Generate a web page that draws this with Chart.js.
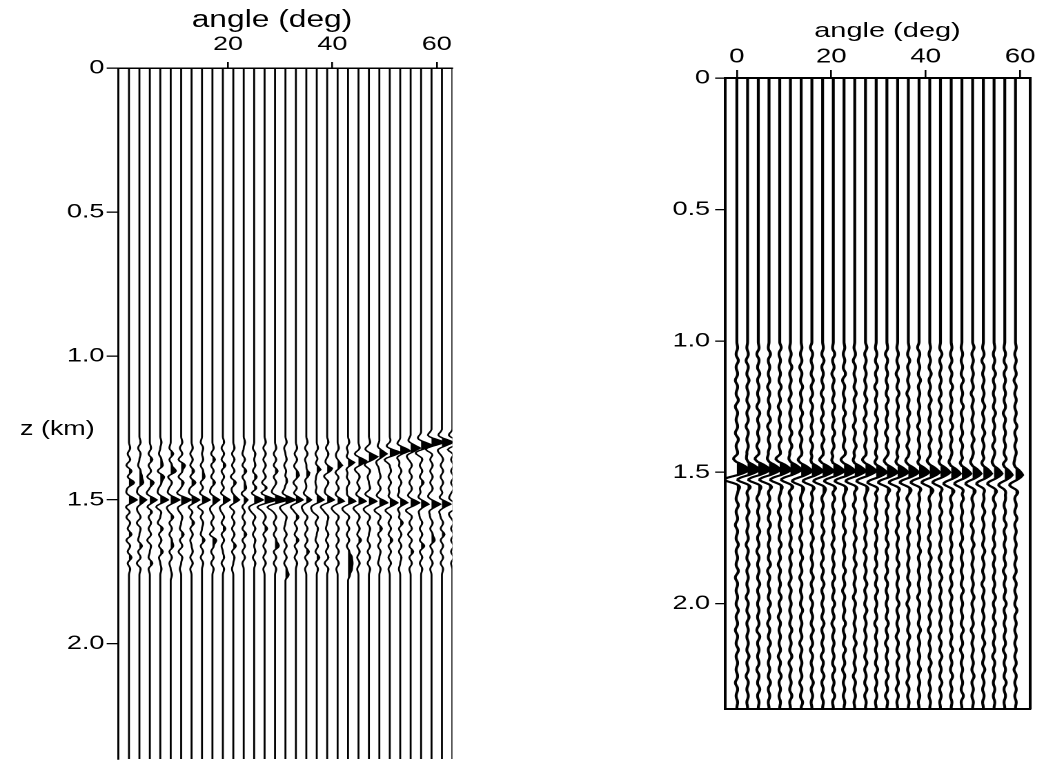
<!DOCTYPE html>
<html><head><meta charset="utf-8">
<script src="https://cdn.jsdelivr.net/npm/chart.js@4.4.1/dist/chart.umd.min.js"></script>
<style>
html,body{margin:0;padding:0;background:#fff;overflow:hidden;width:1038px;height:762px}
#stage{position:absolute;left:0;top:0;width:752.2px;height:762px;transform:scaleX(1.38);transform-origin:0 0}
#cl{position:absolute;left:0;top:0}
#cr{position:absolute;left:435px;top:0}
.txt{position:absolute;font-family:"Liberation Sans",Arial,Helvetica,sans-serif;color:#000;white-space:nowrap}
#tl{left:197.1px;top:8px;font-size:23px;line-height:23px;transform:translateX(-50%)}
#tr{left:643.1px;top:19px;font-size:21px;line-height:21px;transform:translateX(-50%)}
#zl{left:14.5px;top:418.4px;font-size:19.5px;line-height:20px}
</style></head><body>
<div id="stage">
<canvas id="cl" width="341" height="762"></canvas>
<canvas id="cr" width="317" height="762"></canvas>
<div class="txt" id="tl">angle (deg)</div>
<div class="txt" id="tr">angle (deg)</div>
<div class="txt" id="zl">z (km)</div>
</div>
<script>
// ---------------- data ----------------
const zTicks = [0, 0.5, 1.0, 1.5, 2.0];
const zTickLabels = ['0', '0.5', '1.0', '1.5', '2.0'];
const angleTicksL = [20, 40, 60];
const angleTicksR = [0, 20, 40, 60];

// left panel: trace angles (deg)
const anglesL = [1,3,5,7,9,11,13,15,17,19,21,23,25,27,29,31,33,35,37,39,41,43,45,47,49,51,53,55,57,59,61,63];
// main reflection depth (km) and amplitude per trace
const mainDepthL = [1.5,1.5,1.5,1.5,1.5,1.5,1.5,1.5,1.5,1.5,1.5,1.5,1.5,1.5,1.5,1.5,1.5,1.5,
                    1.5,1.5,1.505,1.505,1.505,1.505,1.51,1.51,1.51,1.51,1.515,1.515,1.515,1.52];
const mainAmpL = [8,7,7,8,9,10,8,8,7,7,6,4,9,12,13,10,7,5,7,7,7,8,8,8,9,8,8,9,9,9,10,10];
// dipping (residual-moveout) event
const dipDepthL = [0,0,0,0,0,0,0,0,0,0,0,0,0,0,0,1.425,1.415,1.405,1.395,1.39,1.38,1.37,1.365,1.35,1.34,1.335,1.33,1.32,1.31,1.30,1.30,1.30];
const dipAmpL   = [0,0,0,0,0,0,0,0,0,0,0,0,0,0,0,2,3,4,5,5,6,7,8,8,9,10,10,11,11,12,12,12];
// small wiggles, one value every 0.02 km from 1.30 km
const noiseZ0L = 1.30, noiseDzL = 0.02;
const noiseL = [
[0,1,-1,1,-2,2,-1,4,-1,0,0,0,1,-2,1,-1,2,-2,1,-1,2,-1,1,0],
[1,-1,1,0,-1,1,2,3,-1,0,0,1,-1,1,-2,1,0,-1,2,-1,1,-2,1,0],
[0,1,-1,2,-1,1,-2,3,0,-1,0,0,2,-1,1,-1,1,-2,1,0,-1,2,-1,0],
[1,0,-1,1,2,-2,3,1,-1,0,0,-1,1,0,-2,2,-1,1,-1,2,-1,0,1,0],
[0,-1,2,-1,1,4,-2,1,-1,0,0,0,-1,2,-1,1,-1,1,2,-1,1,-1,0,1],
[1,-1,1,-2,3,1,-2,2,0,-1,0,1,-1,1,0,-1,2,-1,1,-2,1,0,-1,0],
[0,1,-1,1,-1,2,-1,3,-1,0,0,0,1,-1,2,-1,1,-1,0,1,-1,1,-1,0],
[-1,1,0,1,-1,1,2,-1,1,0,0,-1,1,-1,1,0,-1,2,-1,1,-1,1,0,0],
[0,1,-1,2,-1,1,-1,2,-1,0,0,1,-1,1,-1,1,-2,3,1,-1,1,-1,1,0],
[1,-1,1,-1,2,-1,1,-1,1,0,0,0,-1,1,-1,2,-1,1,-1,0,1,-1,1,0],
[0,1,-1,1,-1,1,-2,2,-1,1,0,-1,1,-1,1,-1,1,-1,2,-1,1,0,-1,0],
[1,0,-1,1,-1,2,-1,1,2,-1,0,0,1,-1,1,-1,2,-1,1,-1,1,-1,0,0],
[0,-1,1,0,1,-1,2,-1,2,0,0,-1,-2,1,-1,1,-1,1,0,1,-1,1,0,0],
[1,-1,1,-1,1,-1,1,-2,2,0,0,-2,-1,1,-1,2,-1,1,-1,1,-1,1,-1,0],
[0,1,-1,1,-1,2,-1,1,-1,1,0,-2,-1,1,-1,1,-1,1,3,-1,1,-1,1,0],
[1,-1,0,1,-1,1,-1,1,0,0,0,-1,-2,1,0,-1,1,-1,1,-1,1,-1,1,2.5],
[0,1,-1,1,-1,1,0,-1,1,0,0,-2,-1,2,-1,1,-1,2,-1,1,-1,1,0,0],
[1,-1,1,-1,1,-1,1,0,0,-1,0,-2,-2,1,-1,1,-1,1,-1,2,-1,1,-1,0],
[0,1,-1,1,0,-1,1,-1,0,1,0,-2,-3,1,-1,1,0,-1,1,-1,2,-1,1,0],
[1,-1,1,0,-1,1,-1,1,-1,0,0,-3,-2,1,0,-1,1,-1,1,-1,1,-2,1,0],
[0,1,-1,1,-1,0,1,-1,1,0,0,-3,-2,1,-1,1,-1,1,-1,1,-1,1,-1,0],
[1,-1,1,-1,0,1,-1,1,-1,1,0,-2,-2,1,-1,1,-1,1,-1,1,3,3.5,3,1.5],
[0,1,-1,0,1,-1,1,-1,1,0,0,-2,-1,1,-1,1,-1,2,-1,1,-1,1,-1,0],
[1,-1,0,1,-1,1,-1,0,1,-1,0,-1,-2,1,-1,1,0,-1,1,-1,1,-1,1,0],
[0,1,-1,1,-1,0,1,-1,1,0,0,-1,-1,1,-1,2,-1,1,-1,1,0,-1,1,0],
[1,-1,1,-1,0,1,-1,1,-1,1,0,0,-1,1,-1,1,-1,2,-1,1,-1,1,-1,0],
[0,1,-1,1,-1,1,-1,1,-1,0,0,-1,1,-1,2,-1,1,-1,1,-1,1,0,-1,0],
[1,-1,1,-1,1,-1,1,-1,1,0,0,0,-1,1,-1,1,-2,1,-1,2,-1,1,-1,0],
[0,1,-1,1,-1,1,-1,2,-1,0,0,-1,1,-1,1,-1,1,-1,2.5,-1,1,-1,1,0],
[1,-1,1,-1,1,-1,1,-1,1,-1,0,0,1,-1,1,-1,1,2.5,-1,1,-1,1,-1,0],
[0,1,-1,1,-1,1,-1,1,-1,1,0,-1,1,-1,1,-1,2,-1,1,-1,1,-1,1,0],
[0,0,1,-1,1,-1,1,-1,1,-1,0,-1,1,-1,1,-1,1,-1,1,-1,1,-1,0,0]
];

// right panel
const anglesR = [0,2.27,4.54,6.81,9.08,11.35,13.62,15.89,18.16,20.43,22.7,24.97,27.24,29.51,31.78,34.05,36.32,38.59,40.86,43.13,45.4,47.67,49.94,52.21,54.48,56.75,59.02];
const mainDepthR = [1.49,1.49,1.49,1.49,1.49,1.49,1.495,1.495,1.495,1.495,1.495,1.495,1.495,1.5,1.5,1.5,1.5,1.5,1.5,1.5,1.505,1.505,1.505,1.505,1.505,1.51,1.51];
const mainAmpR = [12.5,12.2,12,11.6,11.4,11.2,11,10.9,11,11,11.2,11,10.8,10.5,10.5,10.5,10.3,10,9.8,9.5,9.2,9,8.5,8.3,8,7.5,7.2];
// wiggles, one value every 0.025 km from 1.025 km
const noiseZ0R = 1.025, noiseDzR = 0.025;
const noiseR = [
[1,-1,2,-1,1,-2,1,-1,2,-2,1,-1,1,-2,2,-1,1,-1,0,0,-3,0,1,-1,2,-1,1,-2,1,-1,2,-1,1,-1,2,-2,1,-1,1,-1,2,-1,1,-2,1,-1,2,-1,1,-1,1,-2,1,-1,1],
[-1,1,-2,1,-1,2,-1,1,-1,2,-1,1,-2,1,-1,1,-1,2,0,0,0,0,-1,1,-1,2,-1,1,-1,1,-2,1,-1,2,-1,1,-1,1,-2,1,-1,2,-1,1,-1,1,-1,2,-1,1,-2,1,-1,1,-1],
[1,-2,1,-1,2,-1,1,-1,1,-2,2,-1,1,-1,1,-2,1,-1,0,0,0,0,1,-2,1,-1,1,-1,2,-1,1,-2,1,-1,1,-1,2,-1,1,-1,1,-1,1,-2,2,-1,1,-1,1,-2,1,-1,2,-1,1],
[-1,2,-1,1,-1,1,-2,1,-1,1,-1,2,-2,1,-1,1,-1,1,0,0,0,0,-1,1,-2,1,-1,2,-1,1,-1,1,-1,2,-2,1,-1,1,-1,2,-1,1,-2,1,-1,2,-1,1,-1,1,-1,2,-1,1,-1],
[2,-1,1,-1,1,-1,2,-1,1,-2,1,-1,1,-1,2,-1,1,-2,0,0,0,0,1,-1,1,-2,1,-1,1,-1,2,-1,1,-2,1,-1,1,-1,2,-1,1,-2,1,-1,1,-1,1,-2,1,-1,2,-1,1,-1,1],
[-1,1,-1,2,-1,1,-1,1,-2,1,-1,1,-1,2,-1,2,-1,1,0,0,0,0,-2,1,-1,1,-1,2,-1,1,-1,2,-1,1,-1,1,-2,1,-1,1,-1,1,-1,2,-1,1,-1,2,-2,1,-1,1,-1,2,-1],
[1,-1,1,-2,1,-1,2,-1,1,-1,2,-1,1,-2,1,-1,1,-1,0,0,0,0,1,-1,2,-1,1,-1,1,-2,1,-1,2,-1,1,-2,1,-1,1,-1,2,-1,1,-1,1,-2,1,-1,1,-1,1,-2,1,-1,2],
[-2,1,-1,1,-1,2,-1,1,-2,1,-1,1,-1,1,-2,1,-1,2,0,0,0,0,-1,1,-1,1,-2,1,-1,2,-1,1,-1,1,-1,2,-1,1,-2,1,-1,1,-1,2,-1,1,-2,1,-1,1,-1,2,-1,1,-1],
[1,-1,2,-1,1,-1,1,-2,1,-1,1,-2,1,-1,2,-1,1,-1,0,0,0,0,2,-1,1,-1,1,-1,2,-1,1,-1,1,-2,1,-1,2,-1,1,-1,1,-1,2,-1,1,-1,1,-2,1,-1,2,-1,1,-1,1],
[-1,2,-1,1,-2,1,-1,1,-1,2,-1,1,-1,2,-1,1,-2,1,0,0,0,0,-1,2,-1,1,-1,1,-1,1,-2,1,-1,1,-1,2,-1,1,-1,2,-1,1,-2,1,-1,1,-1,1,-1,2,-1,1,-1,2,-1],
[1,-1,1,-1,2,-2,1,-1,1,-1,2,-1,1,-1,1,-1,2,-1,0,0,0,0,1,-1,1,-2,1,-1,2,-1,1,-1,1,-1,2,-1,1,-2,1,-1,1,-1,2,-1,1,-1,2,-1,1,-2,1,-1,1,-1,1],
[-1,1,-2,1,-1,1,-1,2,-1,1,-1,1,-2,1,-1,2,-1,1,0,0,0,0,-1,1,-2,1,-1,1,-1,2,-1,1,-1,2,-1,1,-1,1,-2,1,-1,1,-1,1,-1,2,-1,1,-1,1,-2,1,-1,1,-1],
[2,-1,1,-1,1,-1,1,-1,2,-1,1,-2,1,-1,1,-1,1,-1,0,0,0,0,1,-1,1,-1,2,-1,1,-1,1,-2,1,-1,1,-1,2,-1,1,-1,2,-1,1,-1,1,-1,1,-1,2,-1,1,-1,2,-1,1],
[-1,1,-1,2,-1,1,-2,1,-1,1,-1,2,-1,1,-1,1,-1,2,0,0,0,0,-2,1,-1,1,-1,2,-1,1,-1,1,-1,1,-2,1,-1,2,-1,1,-1,1,-2,1,-1,1,-1,1,-1,2,-1,1,-1,1,-1],
[1,-2,1,-1,1,-1,1,-1,2,-1,1,-1,1,-2,1,-1,2,-1,0,0,0,0,1,-1,2,-1,1,-1,1,-1,2,-1,1,-1,1,-2,1,-1,1,-1,1,-1,2,-1,1,-2,1,-1,1,-1,2,-1,1,-2,1],
[-1,1,-1,1,-2,1,-1,2,-1,1,-1,1,-1,2,-1,1,-1,1,0,0,0,0,-1,1,-1,2,-1,1,-2,1,-1,1,-1,2,-1,1,-1,1,-1,2,-1,1,-1,1,-2,1,-1,2,-1,1,-1,1,-2,1,-1],
[1,-1,2,-1,1,-1,1,-2,1,-1,2,-1,1,-1,1,-2,1,-1,0,0,0,0,1,-2,1,-1,1,-1,2,-1,1,-1,1,-1,1,-1,2,-1,1,-2,1,-1,1,-1,2,-1,1,-1,1,-1,1,-2,1,-1,1],
[-2,1,-1,1,-1,2,-1,1,-1,1,-1,1,-2,1,-1,1,-1,2,0,0,0,0,-1,1,-1,1,-2,1,-1,1,-1,2,-1,1,-1,1,-1,1,-2,1,-1,1,-1,2,-1,1,-1,1,-1,2,-1,1,-1,1,-1],
[1,-1,1,-1,2,-1,1,-1,2,-1,1,-1,1,-1,2,-1,1,-1,0,0,0,0,2,-1,1,-1,1,-1,1,-2,1,-1,2,-1,1,-1,1,-1,1,-1,2,-1,1,-2,1,-1,1,-1,2,-1,1,-1,1,-1,1],
[-1,2,-1,1,-1,1,-1,1,-2,1,-1,2,-1,1,-1,1,-2,1,0,0,0,0,-1,1,-1,2,-1,1,-1,1,-1,1,-2,1,-1,2,-1,1,-1,1,-1,1,-1,1,-2,1,-1,2,-1,1,-1,2,-1,1,-1],
[1,-1,1,-2,1,-1,2,-1,1,-1,1,-1,2,-1,1,-1,1,-1,0,0,0,0,1,-1,1,-1,2,-1,1,-1,1,-1,1,-1,2,-1,1,-2,1,-1,1,-1,1,-1,1,-1,2,-1,1,-1,2,-1,1,-1,1],
[-1,1,-1,1,-1,2,-1,1,-1,2,-1,1,-1,1,-2,1,-1,1,0,0,0,0,-1,2,-1,1,-1,1,-1,1,-2,1,-1,1,-1,1,-1,2,-1,1,-1,1,-1,2,-1,1,-2,1,-1,1,-1,1,-1,2,-1],
[2,-1,1,-1,1,-1,1,-2,1,-1,1,-1,1,-1,2,-1,1,-1,0,0,0,0,1,-1,1,-1,1,-2,1,-1,2,-1,1,-1,1,-1,1,-1,2,-1,1,-1,1,-2,1,-1,1,-1,1,-1,2,-1,1,-1,1],
[-1,1,-2,1,-1,1,-1,1,-1,2,-1,1,-1,2,-1,1,-1,1,0,0,0,0,-1,1,-1,2,-1,1,-1,1,-1,2,-1,1,-1,1,-2,1,-1,1,-1,1,-1,1,-1,2,-1,1,-1,2,-1,1,-1,1,-1],
[1,-1,1,-1,2,-1,1,-1,1,-1,2,-1,1,-1,1,-2,1,-1,0,0,0,0,1,-1,2,-1,1,-1,1,-1,1,-2,1,-1,1,-1,1,-1,2,-1,1,-1,2,-1,1,-1,1,-2,1,-1,1,-1,1,-1,1],
[-1,1,-1,2,-1,1,-1,1,-1,1,-2,1,-1,1,-1,1,-1,2,0,0,0,0,-1,1,-1,1,-1,2,-1,1,-1,1,-1,1,-2,1,-1,1,-1,2,-1,1,-1,1,-1,1,-2,1,-1,1,-1,2,-1,1,-1],
[1,-1,1,-1,1,-2,1,-1,1,-1,1,-1,2,-1,1,-1,1,-1,0,0,0,0,1,-1,1,-1,2,-1,1,-1,1,-1,1,-1,1,-2,1,-1,1,-1,2,-1,1,-1,1,-1,1,-1,1,-2,1,-1,1,-1,1]
];

// wavelet shapes (one sample every 0.005 km)
const waveletL = [0,-0.05,-0.14,-0.25,-0.3,-0.2,0.05,0.38,0.7,1.0,0.7,0.38,0.05,-0.25,-0.4,-0.35,-0.2,-0.08,0];
const waveletR = [0,-0.06,-0.14,-0.2,-0.2,-0.12,-0.02,0.2,0.42,0.6,0.76,0.9,1.0,0.86,0.66,0.4,0.12,-0.25,-0.58,-0.78,-0.8,-0.6,-0.3,-0.02,0.15,0.22,0.2,0.12,0.05,0.02,0];
const wiggleShape = [0.15,0.5,0.85,1,0.85,0.5,0.15];

// ---------------- construction ----------------
const STEP = 0.005;
const Z_MAX = 2.4;
const FAMILY = '"Liberation Sans", Arial, Helvetica, sans-serif';
Chart.defaults.color = '#000';

function addEvent(vals, zFrom, z, amp, wav, peak) {
  const c = Math.round((z - zFrom) / STEP);
  for (let j = 0; j < wav.length; j++) {
    const idx = c + j - peak;
    if (idx >= 0 && idx < vals.length) vals[idx] += amp * wav[j];
  }
}

function traceDatasets(angle, vals, zFrom, gain, lw) {
  const line = [{x: angle, y: 0}];
  const fillPts = [{x: angle, y: 0}];
  let pz = null, pv = null;
  for (let k = 0; k < vals.length; k++) {
    const z = zFrom + k * STEP, v = vals[k];
    if (pv !== null && ((pv > 0) !== (v > 0))) {
      const zc = pz + (z - pz) * pv / (pv - v);
      fillPts.push({x: angle, y: zc});
    }
    line.push({x: angle + v * gain, y: z});
    fillPts.push({x: angle + Math.max(0, v) * gain, y: z});
    pz = z; pv = v;
  }
  line.push({x: angle, y: Z_MAX});
  fillPts.push({x: angle, y: Z_MAX});
  return [
    {data: fillPts, fill: 'shape', backgroundColor: '#000', borderColor: 'rgba(0,0,0,0)', borderWidth: 0, pointRadius: 0, tension: 0.0001},
    {data: line, fill: false, borderColor: '#000', borderWidth: lw, pointRadius: 0, tension: 0.0001}
  ];
}

function tickSetter(list) { return s => { s.ticks = list.map(v => ({value: v})); }; }
function noPad(s) { s.paddingTop = 0; s.paddingBottom = 0; s.paddingLeft = 0; s.paddingRight = 0; }

function baseScales(o) {
  return {
    x: {
      type: 'linear', position: 'top', min: o.xmin, max: o.xmax,
      afterBuildTicks: tickSetter(o.xticks),
      afterFit: s => { s.height = o.xh; noPad(s); },
      ticks: {font: {family: FAMILY, size: o.xfs}, color: '#000', padding: o.xpad, maxRotation: 0, autoSkip: false, callback: v => String(v)},
      grid: {drawOnChartArea: false, drawTicks: true, tickLength: o.xtl, color: '#000', lineWidth: 1.3},
      border: {display: true, color: '#000', width: o.bw}
    },
    y: {
      type: 'linear', position: 'left', reverse: true, min: 0, max: Z_MAX,
      afterBuildTicks: tickSetter(zTicks),
      afterFit: s => { s.width = o.yw; noPad(s); },
      ticks: {font: {family: FAMILY, size: o.yfs}, color: '#000', padding: o.ypad, autoSkip: false, callback: (v, i) => zTickLabels[i]},
      grid: {drawOnChartArea: false, drawTicks: true, tickLength: o.ytl, color: '#000', lineWidth: 1.3},
      border: {display: true, color: '#000', width: o.bw}
    }
  };
}

function commonOptions(scales, padding) {
  return {
    responsive: false, animation: false, devicePixelRatio: 2, events: [],
    layout: {padding},
    plugins: {legend: {display: false}, tooltip: {enabled: false}},
    scales
  };
}

// left panel
const zFromL = 1.22, zToL = 1.82, gainL = 0.1916, noiseGainL = 1.3;
const dsL = [];
anglesL.forEach((a, i) => {
  const v = new Array(Math.round((zToL - zFromL) / STEP) + 1).fill(0);
  addEvent(v, zFromL, mainDepthL[i], mainAmpL[i], waveletL, 9);
  if (dipAmpL[i]) addEvent(v, zFromL, dipDepthL[i], dipAmpL[i], waveletL, 9);
  noiseL[i].forEach((nv, k) => { if (nv) addEvent(v, zFromL, noiseZ0L + k * noiseDzL, nv * noiseGainL, wiggleShape, 3); });
  dsL.push(...traceDatasets(a, v, zFromL, gainL, 1.4));
});
new Chart(document.getElementById('cl'), {
  type: 'line',
  data: {datasets: dsL},
  options: commonOptions(
    baseScales({xmin: -1.05, xmax: 63, xticks: angleTicksL, xh: 68, xfs: 19.5, xpad: 5.8, xtl: 6,
                yw: 85.7, yfs: 19.5, ypad: 1.7, ytl: 8.4, bw: 1.5}),
    {left: 0, top: 0, right: 13.2, bottom: 3})
});

// right panel
const zFromR = 0.98, zToR = 2.40, gainR = 0.2118, noiseGainR = 0.75;
const dsR = [];
anglesR.forEach((a, i) => {
  const v = new Array(Math.round((zToR - zFromR) / STEP) + 1).fill(0);
  addEvent(v, zFromR, mainDepthR[i], mainAmpR[i], waveletR, 12);
  noiseR[i].forEach((nv, k) => { if (nv) addEvent(v, zFromR, noiseZ0R + k * noiseDzR, nv * noiseGainR, wiggleShape, 3); });
  dsR.push(...traceDatasets(a, v, zFromR, gainR, 2.1));
});
const scR = baseScales({xmin: -2.5, xmax: 62.1, xticks: angleTicksR, xh: 78, xfs: 20, xpad: 1, xtl: 8,
                        yw: 90.4, yfs: 19.5, ypad: 3.7, ytl: 7.2, bw: 2});
scR.xb = {type: 'linear', axis: 'x', position: 'bottom', display: true, afterFit: s => { s.height = 0; noPad(s); },
          ticks: {display: false}, grid: {drawOnChartArea: false, drawTicks: false, color: '#000'},
          border: {display: true, color: '#000', width: 2}};
scR.yr = {type: 'linear', axis: 'y', position: 'right', display: true, afterFit: s => { s.width = 0; noPad(s); },
          ticks: {display: false}, grid: {drawOnChartArea: false, drawTicks: false, color: '#000'},
          border: {display: true, color: '#000', width: 2}};
new Chart(document.getElementById('cr'), {
  type: 'line',
  data: {datasets: dsR},
  options: commonOptions(scR, {left: 0, top: 0, right: 5.6, bottom: 53})
});
</script>
</body></html>
